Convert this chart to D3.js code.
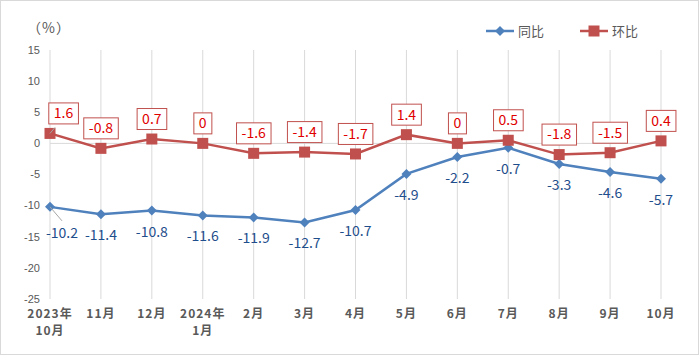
<!DOCTYPE html>
<html><head><meta charset="utf-8">
<script src="https://cdn.jsdelivr.net/npm/d3@7/dist/d3.min.js"></script>
<style>body{margin:0;background:#fff}svg{display:block}</style>
</head><body>
<script>
const categories = [["2023年","10月"],["11月"],["12月"],["2024年","1月"],["2月"],["3月"],["4月"],["5月"],["6月"],["7月"],["8月"],["9月"],["10月"]];
const yoy = [-10.2,-11.4,-10.8,-11.6,-11.9,-12.7,-10.7,-4.9,-2.2,-0.7,-3.3,-4.6,-5.7];
const mom = [1.6,-0.8,0.7,0,-1.6,-1.4,-1.7,1.4,0,0.5,-1.8,-1.5,0.4];
const yTicks = [15,10,5,0,-5,-10,-15,-20,-25];
const seriesNames = ["同比","环比"];

const W=699,H=355;
const svg=d3.select("body").append("svg").attr("width",W).attr("height",H);
svg.append("rect").attr("x",0.5).attr("y",0.5).attr("width",W-1).attr("height",H-1).attr("fill","#fff").attr("stroke","#d9d9d9");

const x=d3.scalePoint().domain(d3.range(categories.length)).range([50,661]);
const y=d3.scaleLinear().domain([-25,15]).range([299,50]);
const font="'Noto Sans CJK SC','DejaVu Sans',sans-serif";

// vertical gridlines
svg.append("g").selectAll("line").data(d3.range(categories.length)).join("line")
 .attr("x1",d=>x(d)).attr("x2",d=>x(d)).attr("y1",y(15)).attr("y2",y(-25))
 .attr("stroke","#d9d9d9").attr("stroke-width",1);
// zero line
svg.append("line").attr("x1",x(0)).attr("x2",x(categories.length-1)).attr("y1",y(0)).attr("y2",y(0)).attr("stroke","#d9d9d9");

// y axis labels
svg.append("g").selectAll("text").data(yTicks).join("text")
 .attr("x",40).attr("y",d=>y(d)).attr("dy","0.35em").attr("text-anchor","end")
 .attr("font-family","'Liberation Sans',Arial,sans-serif").attr("font-size",11).attr("fill","#595959").text(d=>d);
svg.append("text").attr("x",49).attr("y",28).attr("dy","0.35em").attr("text-anchor","middle")
 .attr("font-family",font).attr("font-size",14).attr("letter-spacing","1px").attr("fill","#595959").text("（%）");

// x labels
const xl=svg.append("g").selectAll("text").data(categories).join("text")
 .attr("text-anchor","middle").attr("font-family",font).attr("font-size",12).attr("font-weight","bold")
 .attr("fill","#595959").attr("letter-spacing","1px");
xl.each(function(d,i){
  const t=d3.select(this);
  d.forEach((s,j)=>t.append("tspan").attr("x",x(i)).attr("y",318+j*17).text(s));
});

const line=d3.line().x((d,i)=>x(i)).y(d=>y(d));
svg.append("path").datum(yoy).attr("d",line).attr("fill","none").attr("stroke","#4f81bd").attr("stroke-width",2.5);
svg.append("path").datum(mom).attr("d",line).attr("fill","none").attr("stroke","#c0504d").attr("stroke-width",2.5);

svg.append("g").selectAll("path").data(yoy).join("path").attr("d",d3.symbol().type(d3.symbolSquare).size(50))
 .attr("transform",(d,i)=>`translate(${x(i)},${y(d)}) rotate(45)`).attr("fill","#4f81bd");
svg.append("g").selectAll("rect").data(mom).join("rect")
 .attr("x",(d,i)=>x(i)-5.5).attr("y",d=>y(d)-5.5).attr("width",11).attr("height",11).attr("fill","#c0504d");

// leader lines for first labels
svg.append("line").attr("x1",x(0)).attr("y1",y(yoy[0])).attr("x2",x(0)+12).attr("y2",y(yoy[0])+14).attr("stroke","#a6a6a6");
svg.append("line").attr("x1",x(0)).attr("y1",y(mom[0])).attr("x2",x(0)+5).attr("y2",y(mom[0])-6).attr("stroke","#a6a6a6");

// yoy labels
svg.append("g").selectAll("text").data(yoy).join("text")
 .attr("x",(d,i)=>x(i)+(i===0?12:0)).attr("y",(d,i)=>y(d)+(i===0?26:21)).attr("dy","0.35em").attr("text-anchor","middle")
 .attr("font-family",font).attr("font-size",14).attr("fill","#1f4e8c").text(d=>d);

// mom labels boxed
const mg=svg.append("g").selectAll("g").data(mom).join("g")
 .attr("transform",(d,i)=>`translate(${x(i)+(i===0?13.5:0)},${y(d)-20})`);
mg.append("text").attr("text-anchor","middle").attr("dy","0.35em")
 .attr("font-family",font).attr("font-size",14).attr("fill","#e00000").text(d=>d);
mg.each(function(){
  const g=d3.select(this);const bb=g.select("text").node().getBBox();
  g.insert("rect","text").attr("x",bb.x-5).attr("y",-10.5).attr("width",bb.width+10).attr("height",21)
   .attr("fill","#fff").attr("stroke","#c0504d").attr("stroke-width",1);
});

// legend
const lg=svg.append("g");
lg.append("line").attr("x1",486).attr("x2",514).attr("y1",31).attr("y2",31).attr("stroke","#4f81bd").attr("stroke-width",2.5);
lg.append("path").attr("d",d3.symbol().type(d3.symbolSquare).size(50)).attr("transform","translate(500,31) rotate(45)").attr("fill","#4f81bd");
lg.append("text").attr("x",518).attr("y",31).attr("dy","0.35em").attr("font-family",font).attr("font-size",13).attr("fill","#595959").text(seriesNames[0]);
lg.append("line").attr("x1",580).attr("x2",608).attr("y1",31).attr("y2",31).attr("stroke","#c0504d").attr("stroke-width",2.5);
lg.append("rect").attr("x",588.5).attr("y",25.5).attr("width",11).attr("height",11).attr("fill","#c0504d");
lg.append("text").attr("x",612).attr("y",31).attr("dy","0.35em").attr("font-family",font).attr("font-size",13).attr("fill","#595959").text(seriesNames[1]);
</script>
</body></html>
